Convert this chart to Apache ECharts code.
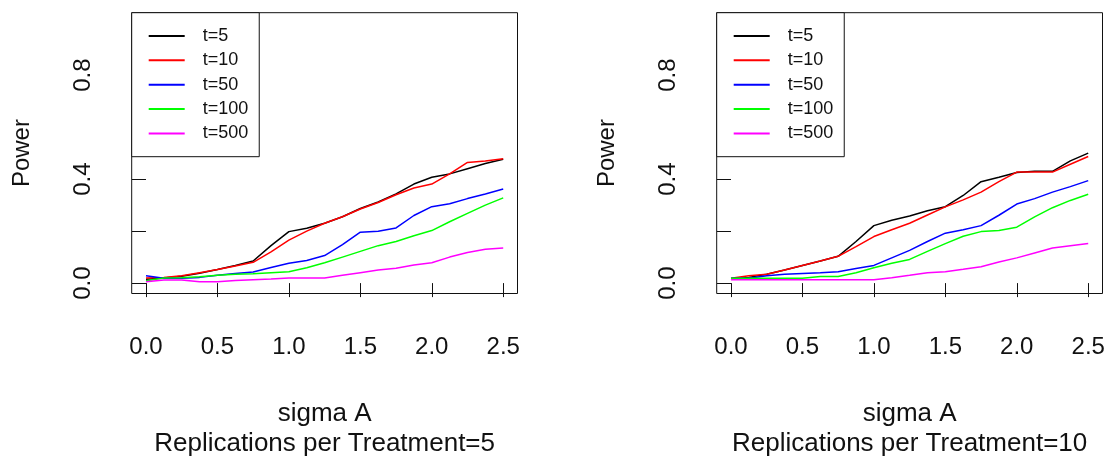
<!DOCTYPE html>
<html>
<head>
<meta charset="utf-8">
<script src="https://cdn.jsdelivr.net/npm/echarts@6/dist/echarts.min.js"></script>
<style>
  html, body { margin: 0; padding: 0; background: #ffffff; }
  #chart { width: 1109px; height: 464px; }
</style>
</head>
<body>
<div id="chart"></div>
<script>
// sigma A values at which power was simulated
const sigmaA = [0, 0.125, 0.25, 0.375, 0.5, 0.625, 0.75, 0.875, 1, 1.125, 1.25,
                1.375, 1.5, 1.625, 1.75, 1.875, 2, 2.125, 2.25, 2.375, 2.5];

const seriesNames = ['t=5', 't=10', 't=50', 't=100', 't=500'];
const seriesColors = ['#000000', '#ff0000', '#0000ff', '#00ff00', '#ff00ff'];

const xTickValues = [0, 0.5, 1, 1.5, 2, 2.5];
const yTickValues = [0, 0.2, 0.4, 0.6, 0.8, 1];
const yLabelValues = [0, 0.4, 0.8];

// Power, 5 replications per treatment
const rep5_t5   = [0.015, 0.020, 0.026, 0.038, 0.052, 0.068, 0.085, 0.144, 0.198, 0.211, 0.230,
                   0.255, 0.287, 0.312, 0.343, 0.381, 0.407, 0.420, 0.440, 0.460, 0.476];
const rep5_t10  = [0.020, 0.022, 0.028, 0.040, 0.052, 0.066, 0.080, 0.120, 0.165, 0.200, 0.230,
                   0.255, 0.285, 0.310, 0.340, 0.366, 0.381, 0.420, 0.464, 0.470, 0.478];
const rep5_t50  = [0.028, 0.019, 0.019, 0.022, 0.030, 0.037, 0.043, 0.060, 0.076, 0.087, 0.106,
                   0.148, 0.196, 0.199, 0.212, 0.260, 0.294, 0.305, 0.325, 0.343, 0.362];
const rep5_t100 = [0.009, 0.020, 0.021, 0.024, 0.030, 0.034, 0.036, 0.040, 0.044, 0.059, 0.078,
                   0.100, 0.122, 0.144, 0.160, 0.182, 0.202, 0.236, 0.268, 0.300, 0.328];
const rep5_t500 = [0.005, 0.012, 0.012, 0.005, 0.005, 0.010, 0.013, 0.016, 0.020, 0.020, 0.020,
                   0.030, 0.040, 0.050, 0.057, 0.070, 0.078, 0.100, 0.118, 0.130, 0.135];

// Power, 10 replications per treatment
const rep10_t5   = [0.015, 0.022, 0.034, 0.050, 0.068, 0.085, 0.103, 0.160, 0.221, 0.242, 0.258,
                    0.278, 0.294, 0.337, 0.390, 0.407, 0.425, 0.430, 0.430, 0.470, 0.500];
const rep10_t10  = [0.019, 0.028, 0.034, 0.050, 0.068, 0.085, 0.103, 0.140, 0.179, 0.205, 0.230,
                    0.262, 0.293, 0.320, 0.350, 0.390, 0.427, 0.427, 0.427, 0.457, 0.487];
const rep10_t50  = [0.019, 0.019, 0.028, 0.034, 0.037, 0.040, 0.044, 0.056, 0.068, 0.097, 0.126,
                    0.160, 0.192, 0.205, 0.221, 0.261, 0.304, 0.325, 0.350, 0.371, 0.394];
const rep10_t100 = [0.019, 0.019, 0.019, 0.019, 0.019, 0.025, 0.025, 0.040, 0.059, 0.076, 0.091,
                    0.122, 0.152, 0.180, 0.198, 0.202, 0.215, 0.255, 0.290, 0.318, 0.342];
const rep10_t500 = [0.013, 0.013, 0.013, 0.013, 0.013, 0.013, 0.013, 0.013, 0.013, 0.021, 0.030,
                    0.040, 0.044, 0.053, 0.063, 0.081, 0.097, 0.116, 0.135, 0.144, 0.152];

const panels = [
  { title: 'Replications per Treatment=5',  left: 131.7, values: [rep5_t5, rep5_t10, rep5_t50, rep5_t100, rep5_t500] },
  { title: 'Replications per Treatment=10', left: 716.7, values: [rep10_t5, rep10_t10, rep10_t50, rep10_t100, rep10_t500] }
];

const FONT = "'Liberation Sans', Arial, Helvetica, sans-serif";
const INK = '#111111';
const PLOT_TOP = 12.7, PLOT_W = 385.8, PLOT_H = 285.2;

const grid = [], xAxis = [], yAxis = [], series = [], legend = [];

panels.forEach((p, i) => {
  grid.push({
    left: p.left, top: PLOT_TOP, width: PLOT_W, height: PLOT_H,
    show: true, borderColor: INK, borderWidth: 1, backgroundColor: 'transparent'
  });
  xAxis.push({
    type: 'value', gridIndex: i, min: -0.1, max: 2.6,
    axisLine: { show: false },
    splitLine: { show: false },
    axisTick: { show: true, inside: false, length: 14, customValues: xTickValues,
                lineStyle: { color: INK, width: 1 } },
    axisLabel: { show: true, customValues: xTickValues, margin: 42,
                 formatter: v => v.toFixed(1),
                 fontFamily: FONT, fontSize: 24, color: INK },
    name: 'sigma A\n' + p.title,
    nameLocation: 'middle', nameGap: 105.5,
    nameTextStyle: { fontFamily: FONT, fontSize: 26, lineHeight: 30, color: INK }
  });
  yAxis.push({
    type: 'value', gridIndex: i, min: -0.04, max: 1.04,
    axisLine: { show: false },
    splitLine: { show: false },
    axisTick: { show: true, inside: false, length: 14, customValues: yTickValues,
                lineStyle: { color: INK, width: 1 } },
    axisLabel: { show: true, customValues: yLabelValues, rotate: 90, margin: 36,
                 formatter: v => v.toFixed(1),
                 fontFamily: FONT, fontSize: 24, color: INK },
    name: 'Power', nameLocation: 'middle', nameGap: 97, nameRotate: 90,
    nameTextStyle: { fontFamily: FONT, fontSize: 24, color: INK }
  });
  p.values.forEach((vals, k) => {
    series.push({
      type: 'line', name: seriesNames[k], xAxisIndex: i, yAxisIndex: i,
      data: sigmaA.map((x, j) => [x, vals[j]]),
      symbol: 'none', animation: false, silent: true,
      lineStyle: { color: seriesColors[k], width: 1.5 },
      itemStyle: { color: seriesColors[k] }
    });
  });
  legend.push({
    left: p.left, top: PLOT_TOP, orient: 'vertical',
    data: seriesNames, icon: 'rect', itemWidth: 36, itemHeight: 2, itemGap: 0,
    padding: [11, 11, 11, 17],
    borderColor: INK, borderWidth: 1, backgroundColor: '#ffffff',
    selectedMode: false,
    textStyle: { fontFamily: FONT, fontSize: 18, lineHeight: 24.4, color: INK, padding: [0, 0, 0, 13] }
  });
});

const chart = echarts.init(document.getElementById('chart'), null, { renderer: 'canvas' });
chart.setOption({
  backgroundColor: '#ffffff',
  animation: false,
  grid, xAxis, yAxis, series, legend
});
</script>
</body>
</html>
